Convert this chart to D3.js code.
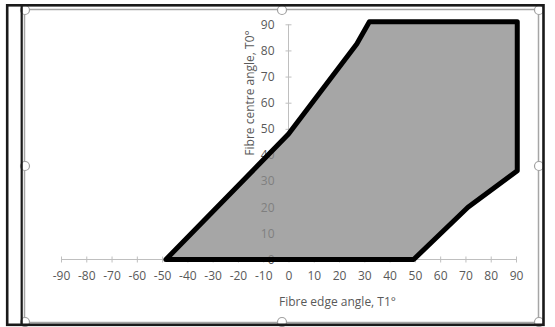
<!DOCTYPE html>
<html>
<head>
<meta charset="utf-8">
<script src="https://cdn.jsdelivr.net/npm/d3@7"></script>
<style>
  body { margin: 0; background: #fff; }
  svg { display: block; }
  text { font-family: "Open Sans", "Noto Sans", sans-serif; fill: #595959; }
</style>
</head>
<body>
<script>
// outline of the allowed region
var edgeAngle   = [-48.5, 0, 27, 32, 90.5, 90.5, 71, 49.5];   // T1
var centreAngle = [0, 48, 82.5, 91, 91, 34, 20, 0];          // T0

var xTicks = d3.range(-90, 91, 10);
var yTicks = d3.range(0, 91, 10);
var xMinor = d3.range(-90, 91, 2);
var yMinor = d3.range(0, 91, 2);

var W = 555, H = 327;

var svg = d3.select("body").append("svg")
  .attr("width", W)
  .attr("height", H);

svg.append("rect").attr("width", W).attr("height", H).attr("fill", "#fff");

var x = d3.scaleLinear().domain([-90, 90]).range([61, 516]);
var y = d3.scaleLinear().domain([0, 90]).range([259.5, 24.3]);

//plain hyphen like excel, not the unicode minus
var fmt = function(d) { return String(d); };

//chart area border
svg.append("rect")
  .attr("x", 24.5).attr("y", 9.5)
  .attr("width", 514).attr("height", 313)
  .attr("fill", "none")
  .attr("stroke", "#a6a6a6")
  .attr("stroke-width", 1.5);

var axisCol = "#bfbfbf";

// x axis lines: minor ticks above, major ticks crossing
var gx = svg.append("g").attr("transform", "translate(0," + y(0) + ")");
gx.call(d3.axisBottom(x).tickValues(xMinor).tickSize(-3).tickFormat(""));
gx.call(d3.axisBottom(x).tickValues(xTicks).tickSize(3).tickFormat(""));
gx.selectAll(".tick line").filter(function() { return +d3.select(this).attr("y2") > 0; })
  .attr("y1", -3);
gx.selectAll("path, line").attr("stroke", axisCol);
gx.select(".domain").attr("d", "M" + x(-90) + ",0H" + x(90));

// y axis lines: minor ticks right, major ticks crossing
var gy = svg.append("g").attr("transform", "translate(" + x(0) + ",0)");
gy.call(d3.axisLeft(y).tickValues(yMinor).tickSize(-3).tickFormat(""));
gy.call(d3.axisLeft(y).tickValues(yTicks).tickSize(3).tickFormat(""));
gy.selectAll(".tick line").filter(function() { return +d3.select(this).attr("x2") < 0; })
  .attr("x1", 3);
gy.selectAll("path, line").attr("stroke", axisCol);
gy.select(".domain").attr("d", "M0," + y(0) + "V" + y(90));

// region
var pts = edgeAngle.map(function(d, i) { return [x(d), y(centreAngle[i])]; });
var line = d3.line().curve(d3.curveLinearClosed);

svg.append("path")
  .attr("d", line(pts))
  .attr("fill", "#a6a6a6");

// tick labels (the y ones show faintly through the fill)
var lx = svg.append("g").attr("transform", "translate(0," + y(0) + ")")
  .call(d3.axisBottom(x).tickValues(xTicks).tickSize(0).tickPadding(12).tickFormat(fmt));
var ly = svg.append("g").attr("transform", "translate(" + x(0) + ",0)")
  .call(d3.axisLeft(y).tickValues(yTicks).tickSize(0).tickPadding(14).tickFormat(fmt));
[lx, ly].forEach(function(g) {
  g.select(".domain").remove();
  g.selectAll("line").remove();
  g.selectAll("text")
    .attr("fill", "#595959")
    .style("font-size", "12px")
    .style("font-family", null);
});

svg.append("path")
  .attr("d", line(pts))
  .attr("fill", "#a6a6a6")
  .attr("fill-opacity", 0.5)
  .attr("stroke", "#000")
  .attr("stroke-width", 5)
  .attr("stroke-linejoin", "round");

// axis titles
svg.append("text")
  .attr("x", 337.5).attr("y", 305.5)
  .attr("text-anchor", "middle")
  .style("font-size", "12px")
  .text("Fibre edge angle, T1°");

svg.append("text")
  .attr("transform", "translate(254,93) rotate(-90)")
  .attr("text-anchor", "middle")
  .style("font-size", "12px")
  .text("Fibre centre angle, T0°");

// selection handles
var handles = [[25, 10], [282, 10], [539, 10], [25, 166], [539, 166], [25, 322], [282, 322], [539, 322]];
svg.selectAll("circle.h")
  .data(handles)
  .enter().append("circle")
  .attr("class", "h")
  .attr("cx", function(d) { return d[0]; })
  .attr("cy", function(d) { return d[1]; })
  .attr("r", 4.5)
  .attr("fill", "#fff")
  .attr("stroke", "#a0a0a0")
  .attr("stroke-width", 1.2);

// outer frame
svg.append("rect")
  .attr("x", 7.2).attr("y", 5.3)
  .attr("width", 536.3).attr("height", 319.5)
  .attr("fill", "none")
  .attr("stroke", "#1a1a1a")
  .attr("stroke-width", 2.6);
svg.append("line")
  .attr("x1", 21.7).attr("x2", 21.7)
  .attr("y1", 4).attr("y2", 326)
  .attr("stroke", "#1a1a1a")
  .attr("stroke-width", 2.2);
</script>
</body>
</html>
